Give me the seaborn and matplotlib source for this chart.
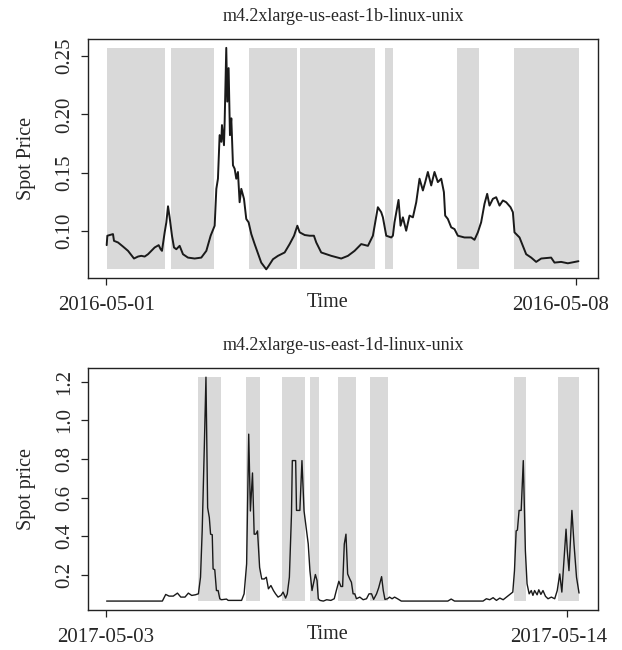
import matplotlib
matplotlib.use("Agg")
import matplotlib.pyplot as plt
import matplotlib.dates as mdates
import pandas as pd
import seaborn as sns

# ---------------- panel 1: us-east-1b ----------------
title_1b = "m4.2xlarge-us-east-1b-linux-unix"
start_1b = "2016-05-01"
xticks_1b = ["2016-05-01", "2016-05-08"]
yticks_1b = [0.10, 0.15, 0.20, 0.25]
ylabel_1b = "Spot Price"

# days after start
days_1b = [0.005, 0.015, 0.099, 0.114, 0.174, 0.248, 0.323, 0.412, 0.472, 0.521,
           0.571, 0.621, 0.670, 0.720, 0.780, 0.809, 0.829, 0.869, 0.894, 0.919,
           0.943, 0.978, 1.008, 1.043, 1.092, 1.142, 1.216, 1.316, 1.415, 1.490,
           1.554, 1.614, 1.639, 1.663, 1.688, 1.713, 1.723, 1.753, 1.763, 1.787,
           1.802, 1.822, 1.842, 1.862, 1.887, 1.912, 1.936, 1.961, 1.986, 2.011,
           2.051, 2.085, 2.120, 2.160, 2.210, 2.308, 2.383, 2.418, 2.483, 2.557,
           2.657, 2.731, 2.797, 2.846, 2.881, 2.956, 3.029, 3.093, 3.128, 3.202,
           3.352, 3.500, 3.600, 3.699, 3.798, 3.898, 3.972, 4.007, 4.046, 4.096,
           4.121, 4.171, 4.245, 4.270, 4.294, 4.354, 4.384, 4.419, 4.468, 4.518,
           4.568, 4.618, 4.667, 4.717, 4.752, 4.791, 4.841, 4.890, 4.940, 4.990,
           5.030, 5.049, 5.089, 5.139, 5.188, 5.238, 5.337, 5.437, 5.486, 5.536,
           5.585, 5.635, 5.675, 5.710, 5.760, 5.809, 5.859, 5.909, 5.958, 6.023,
           6.058, 6.082, 6.157, 6.206, 6.256, 6.331, 6.405, 6.480, 6.628, 6.678,
           6.777, 6.877, 6.977, 7.035]
price_1b = [0.0876, 0.0957, 0.0971, 0.0913, 0.0899, 0.0864, 0.0827, 0.0761, 0.0778, 0.0784,
            0.0778, 0.0798, 0.0827, 0.0856, 0.0876, 0.0841, 0.0827, 0.0986, 0.1072, 0.1210,
            0.1115, 0.0957, 0.0856, 0.0841, 0.0870, 0.0798, 0.0769, 0.0761, 0.0769, 0.0827,
            0.0957, 0.1043, 0.1360, 0.1447, 0.1822, 0.1764, 0.1908, 0.1735, 0.1937, 0.2572,
            0.2110, 0.2398, 0.1822, 0.1966, 0.1562, 0.1533, 0.1447, 0.1505, 0.1245, 0.1360,
            0.1274, 0.1101, 0.1072, 0.0971, 0.0885, 0.0726, 0.0668, 0.0697, 0.0755, 0.0784,
            0.0813, 0.0885, 0.0957, 0.1043, 0.0986, 0.0963, 0.0957, 0.0957, 0.0899, 0.0813,
            0.0784, 0.0761, 0.0784, 0.0827, 0.0885, 0.0870, 0.0957, 0.1072, 0.1202, 0.1159,
            0.1115, 0.0957, 0.0942, 0.0957, 0.1072, 0.1265, 0.1043, 0.1115, 0.1000, 0.1130,
            0.1115, 0.1245, 0.1447, 0.1346, 0.1418, 0.1505, 0.1389, 0.1505, 0.1418, 0.1447,
            0.1332, 0.1130, 0.1101, 0.1029, 0.1014, 0.0957, 0.0942, 0.0942, 0.0922, 0.0986,
            0.1072, 0.1231, 0.1317, 0.1216, 0.1274, 0.1288, 0.1216, 0.1260, 0.1245, 0.1202,
            0.1159, 0.0986, 0.0942, 0.0870, 0.0798, 0.0769, 0.0732, 0.0761, 0.0769, 0.0726,
            0.0732, 0.0720, 0.0732, 0.0738]
shade_start_1b = [0.004, 0.96, 2.12, 2.88, 4.15, 5.23, 6.08]
shade_end_1b = [0.87, 1.60, 2.84, 4.01, 4.27, 5.56, 7.05]

# ---------------- panel 2: us-east-1d ----------------
title_1d = "m4.2xlarge-us-east-1d-linux-unix"
start_1d = "2017-05-03"
xticks_1d = ["2017-05-03", "2017-05-14"]
yticks_1d = [0.2, 0.4, 0.6, 0.8, 1.0, 1.2]
ylabel_1d = "Spot price"

days_1d = [0.02, 1.35, 1.43, 1.51, 1.61, 1.71, 1.79, 1.89, 1.97, 2.05,
           2.14, 2.21, 2.26, 2.30, 2.35, 2.39, 2.43, 2.47, 2.50, 2.54,
           2.56, 2.60, 2.64, 2.68, 2.72, 2.76, 2.88, 2.92, 3.24, 3.30,
           3.36, 3.41, 3.45, 3.50, 3.54, 3.58, 3.62, 3.67, 3.72, 3.78,
           3.83, 3.88, 3.94, 4.00, 4.05, 4.11, 4.18, 4.23, 4.29, 4.33,
           4.38, 4.43, 4.45, 4.53, 4.55, 4.63, 4.68, 4.73, 4.79, 4.83,
           4.87, 4.92, 4.97, 5.00, 5.04, 5.07, 5.11, 5.19, 5.27, 5.37,
           5.45, 5.50, 5.56, 5.61, 5.65, 5.69, 5.73, 5.77, 5.82, 5.86,
           5.90, 5.94, 5.98, 6.06, 6.14, 6.22, 6.28, 6.34, 6.39, 6.46,
           6.51, 6.58, 6.62, 6.66, 6.72, 6.77, 6.83, 6.89, 6.96, 7.05,
           8.16, 8.24, 8.32, 9.00, 9.08, 9.16, 9.24, 9.32, 9.40, 9.48,
           9.56, 9.66, 9.71, 9.75, 9.79, 9.82, 9.86, 9.91, 9.96, 10.01,
           10.05, 10.10, 10.15, 10.19, 10.23, 10.29, 10.33, 10.38, 10.43, 10.49,
           10.55, 10.63, 10.71, 10.77, 10.83, 10.88, 10.93, 10.98, 11.01, 11.05,
           11.08, 11.12, 11.17, 11.23, 11.29]
price_1d = [0.0645, 0.0645, 0.0988, 0.0902, 0.0902, 0.1057, 0.0851, 0.0851, 0.1057, 0.0937,
            0.0971, 0.1022, 0.188, 0.428, 0.857, 1.224, 0.548, 0.497, 0.411, 0.408,
            0.231, 0.227, 0.119, 0.119, 0.0765, 0.0714, 0.0748, 0.068, 0.068, 0.102,
            0.257, 0.929, 0.531, 0.728, 0.411, 0.411, 0.428, 0.239, 0.179, 0.179,
            0.188, 0.128, 0.145, 0.119, 0.102, 0.085, 0.094, 0.111, 0.080, 0.102,
            0.188, 0.514, 0.792, 0.792, 0.534, 0.534, 0.792, 0.531, 0.428, 0.360,
            0.222, 0.119, 0.171, 0.202, 0.171, 0.0765, 0.068, 0.0645, 0.0714, 0.068,
            0.0765, 0.119, 0.167, 0.140, 0.140, 0.360, 0.411, 0.205, 0.179, 0.162,
            0.102, 0.102, 0.0765, 0.085, 0.0714, 0.0765, 0.102, 0.102, 0.073, 0.102,
            0.133, 0.191, 0.119, 0.073, 0.0765, 0.085, 0.0765, 0.085, 0.0765, 0.0645,
            0.0645, 0.075, 0.0645, 0.0645, 0.0765, 0.0714, 0.082, 0.068, 0.080, 0.0714,
            0.085, 0.102, 0.111, 0.222, 0.428, 0.432, 0.534, 0.534, 0.792, 0.325,
            0.154, 0.102, 0.119, 0.094, 0.119, 0.097, 0.123, 0.099, 0.119, 0.089,
            0.0765, 0.085, 0.0765, 0.119, 0.205, 0.111, 0.274, 0.437, 0.325, 0.222,
            0.360, 0.534, 0.360, 0.188, 0.106]
shade_start_1d = [2.21, 3.34, 4.21, 4.87, 5.53, 6.30, 9.75, 10.80]
shade_end_1d = [2.74, 3.67, 4.75, 5.08, 5.96, 6.73, 10.02, 11.30]

sns.set_theme(style="ticks")
plt.rcParams["font.family"] = ["Liberation Serif", "DejaVu Serif"]
plt.rcParams["axes.edgecolor"] = "#222222"
plt.rcParams["axes.linewidth"] = 1.0

fig = plt.figure(figsize=(6.22, 6.5), dpi=100)
fig.patch.set_facecolor("white")


def draw_panel(ax, start, days, price, s0, s1, title, xticks, yticks, yfmt, ylabel,
               lw, last_shift):
    t0 = pd.Timestamp(start)
    df = pd.DataFrame({"time": t0 + pd.to_timedelta(days, unit="D"), "price": price})
    lo, hi = min(price), max(price)
    # shaded intervals span the full price range
    for a, b in zip(s0, s1):
        ax.fill_between([t0 + pd.Timedelta(days=a), t0 + pd.Timedelta(days=b)], lo, hi,
                        color="#d9d9d9", linewidth=0, zorder=1)
    sns.lineplot(data=df, x="time", y="price", ax=ax, color="#1a1a1a",
                 linewidth=lw, estimator=None, zorder=3)
    ax.margins(x=0.04, y=0.04)
    tick_dates = pd.to_datetime(xticks)
    ax.set_xticks(tick_dates)
    # right-hand date is pulled in from its tick (as in the original), so draw it separately
    ax.set_xticklabels([xticks[0]] + [""] * (len(xticks) - 1), fontsize=15)
    for d, txt in zip(tick_dates[1:], xticks[1:]):
        ax.annotate(txt, xy=(mdates.date2num(d.to_pydatetime()), 0),
                    xycoords=ax.get_xaxis_transform(),
                    xytext=(last_shift, -13), textcoords="offset points",
                    ha="center", va="top", fontsize=15)
    ax.set_yticks(yticks)
    ax.set_yticklabels([yfmt.format(v) for v in yticks], fontsize=15,
                       rotation=90, va="center")
    ax.tick_params(direction="out", length=5, width=0.9, color="#222222")
    ax.tick_params(axis="x", pad=8)
    ax.tick_params(axis="y", pad=5)
    ax.set_xlabel("Time", fontsize=14.5)
    ax.xaxis.set_label_coords(0.47, -0.06)
    ax.set_ylabel(ylabel, fontsize=14.5, va="center")
    ax.yaxis.set_label_coords(-0.12, 0.5)
    ax.set_title(title, fontsize=13, pad=13)
    for sp in ax.spines.values():
        sp.set_visible(True)


ax1 = fig.add_axes([0.141, 0.572, 0.821, 0.368])
draw_panel(ax1, start_1b, days_1b, price_1b, shade_start_1b, shade_end_1b,
           title_1b, xticks_1b, yticks_1b, "{:.2f}", ylabel_1b, 1.4, -11)

ax2 = fig.add_axes([0.141, 0.0615, 0.821, 0.372])
draw_panel(ax2, start_1d, days_1d, price_1d, shade_start_1d, shade_end_1d,
           title_1d, xticks_1d, yticks_1d, "{:.1f}", ylabel_1d, 1.0, -6)

fig.savefig("out.png", dpi=100, facecolor="white")
